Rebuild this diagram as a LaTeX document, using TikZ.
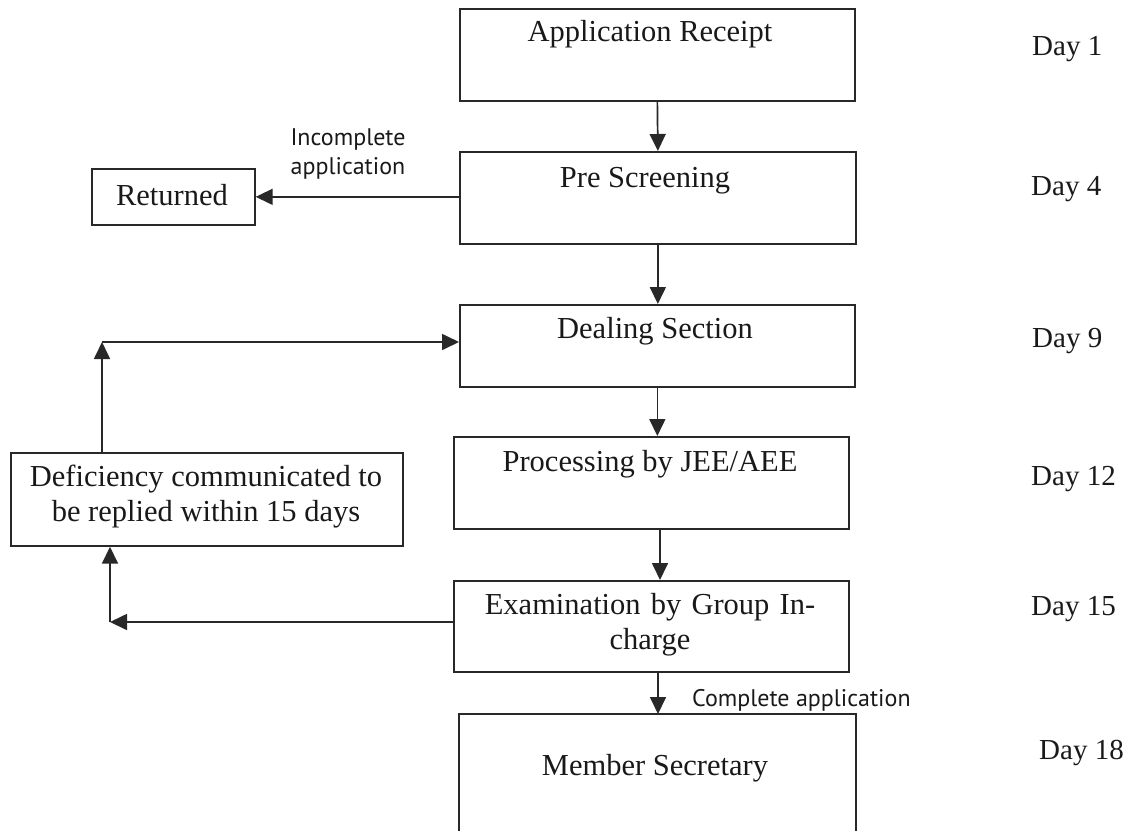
\documentclass[tikz,border=0pt]{standalone}
\usepackage{fontspec}
\setmainfont{Liberation Serif}
\newfontfamily\notefont{PT Sans}
\usetikzlibrary{arrows.meta,calc}
\begin{document}
\begin{tikzpicture}[x=1pt,y=-1pt,
  line width=1.7pt, draw={rgb,255:red,40;green,40;blue,40},
  flow/.style={-{Triangle[length=17pt,width=16pt]}},
  stagebox/.style={draw, rectangle, inner sep=0pt, anchor=north west},
  stagetext/.style={font=\fontsize{30.5}{35}\selectfont, align=center, text=black!90},
  daytext/.style={font=\fontsize{29}{34}\selectfont, anchor=west, text=black!90},
  notetext/.style={font=\notefont\fontsize{24}{29}\selectfont, align=center, text=black!90}]
  \useasboundingbox (0,0) rectangle (1127,830);

  % main column of stages
  \node[stagebox, minimum width=395pt, minimum height=92pt] (ar) at (459,8) {};
  \node[stagetext] (art) at (650,34) {Application Receipt};
  \node[stagebox, minimum width=396pt, minimum height=92pt] (ps) at (459,151) {};
  \node[stagetext] (pst) at (645,181) {Pre Screening};
  \node[stagebox, minimum width=395pt, minimum height=82pt] (ds) at (459,304) {};
  \node[stagetext] (dst) at (655,331) {Dealing Section};
  \node[stagebox, minimum width=395pt, minimum height=92pt] (pj) at (453,436) {};
  \node[stagetext] (pjt) at (650,464) {Processing by JEE/AEE};
  \node[stagebox, minimum width=395pt, minimum height=91pt] (eg) at (453,580) {};
  \node[stagetext, text width=380pt] (egt) at (650,625) {Examination by Group In-\\charge};
  \node[inner sep=0pt, anchor=north west, minimum width=395pt, minimum height=118pt] (ms) at (459,714) {};
  \draw (ms.south west) -- (ms.north west) -- (ms.north east) -- (ms.south east);
  \node[stagetext] (mst) at (655,768) {Member Secretary};

  % side boxes
  \node[stagebox, minimum width=163pt, minimum height=56pt] (ret) at (91,168) {};
  \node[stagetext] (rett) at (172,195) {Returned};
  \node[stagebox, minimum width=392pt, minimum height=93pt] (def) at (10,452) {};
  \node[stagetext] (deft) at (206,497) {Deficiency communicated to\\be replied within 15 days};

  % day markers
  \node[daytext] (d1) at (1028,49) {Day 1};
  \node[daytext] (d4) at (1027,189) {Day 4};
  \node[daytext] (d9) at (1028,341) {Day 9};
  \node[daytext] (d12) at (1027,479) {Day 12};
  \node[daytext] (d15) at (1027,609) {Day 15};
  \node[daytext] (d18) at (1035,753) {Day 18};

  % main flow
  \draw[flow] (ar.south) -- (ps.north);
  \draw[flow] (ps.south) -- (ps.south |- ds.north);
  \draw[flow] (ds.south) -- (ds.south |- pj.north);
  \coordinate (pjx) at (660,528);
  \draw[flow] (pjx) -- (pjx |- eg.north);
  \coordinate (egx) at (658,671);
  \draw[flow] (egx) -- (egx |- ms.north);
  \node[notetext, anchor=west] (cpl) at (688,700) {Complete application};

  % rejection path
  \draw[flow] (ps.west |- ret.east) -- (ret.east);
  \node[notetext] (inc) at (348,154) {Incomplete\\application};

  % deficiency loop
  \coordinate (c2) at (110,622);
  \draw[flow] (eg.west |- c2) -- (c2);
  \draw[flow] (c2) -- (c2 |- def.south);
  \coordinate (c1) at (102,342);
  \draw[flow] (c1 |- def.north) -- (c1);
  \draw[flow] (c1) -- (c1 -| ds.west);
\end{tikzpicture}
\end{document}
